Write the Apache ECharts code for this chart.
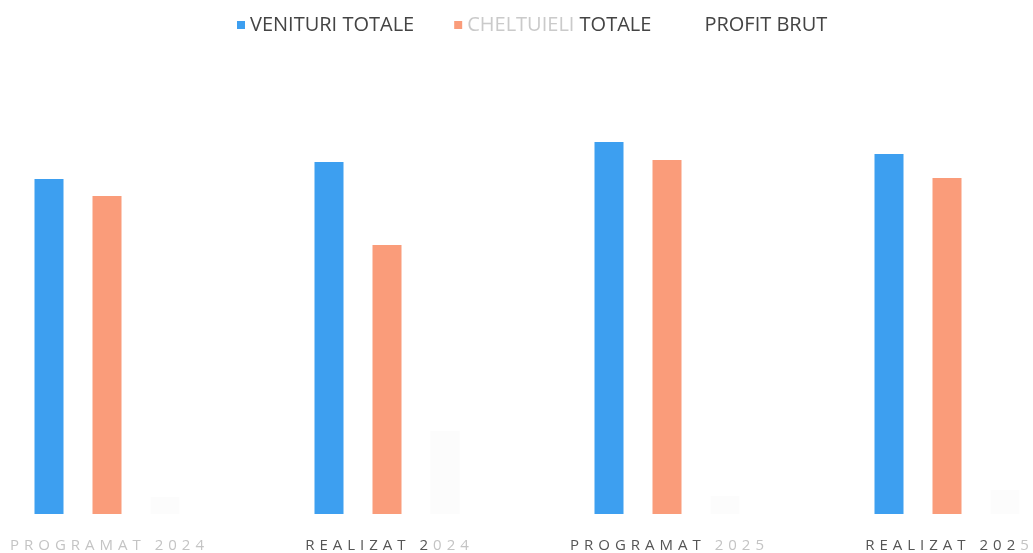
<!DOCTYPE html>
<html>
<head>
<meta charset="utf-8">
<script src="https://cdn.jsdelivr.net/npm/echarts@6/dist/echarts.min.js"></script>
<style>
  html, body { margin: 0; padding: 0; background: #fff; }
  #chart { width: 1033px; height: 553px; }
</style>
</head>
<body>
<div id="chart"></div>
<script>
const chart = echarts.init(document.getElementById("chart"));

const CATEGORIES = ["PROGRAMAT 2024", "REALIZAT 2024", "PROGRAMAT 2025", "REALIZAT 2025"];
const SERIES_NAMES = ["VENITURI TOTALE", "CHELTUIELI TOTALE", "PROFIT BRUT"];
const VENITURI = [335, 352, 372, 360];
const CHELTUIELI = [318, 269, 354, 336];
const PROFIT = [17, 83, 18, 24];

// profit bars are almost washed out in the scan
const COLORS = ["#3d9ff0", "#fa9c7a", "#fcfcfc"];

// spread the letters like the original axis labels
const spaced = s => s.split("").join("\u2004");

// which part of each label looks faded in the scan
const FADED = {
  "PROGRAMAT 2024": [0, 14],
  "REALIZAT 2024": [10, 13],
  "PROGRAMAT 2025": [10, 14],
  "REALIZAT 2025": [12, 13]
};

function axisLabel(value) {
  const [a, b] = FADED[value];
  const parts = [];
  if (a > 0) parts.push("{d|" + spaced(value.slice(0, a)) + "}");
  parts.push("{f|" + spaced(value.slice(a, b)) + "}");
  if (b < value.length) parts.push("{d|" + spaced(value.slice(b)) + "}");
  return parts.join("{d|\u2004}");
}

chart.setOption({
  animation: false,
  legend: {
    data: [
      { name: SERIES_NAMES[0] },
      { name: SERIES_NAMES[1] },
      { name: SERIES_NAMES[2], itemStyle: { color: "#ffffff" } }
    ],
    top: 10,
    left: 232,
    icon: "rect",
    itemWidth: 8,
    itemHeight: 8,
    itemGap: 40,
    formatter: name => name === "CHELTUIELI TOTALE"
      ? "{f|CHELTUIELI} {d|TOTALE}"
      : "{d|" + name + "}",
    textStyle: {
      fontFamily: "Open Sans",
      fontSize: 20,
      color: "#444",
      rich: {
        d: { fontFamily: "Open Sans", fontSize: 20, color: "#444" },
        f: { fontFamily: "Open Sans", fontSize: 20, color: "#cacaca" }
      }
    }
  },
  grid: { left: 107, right: 86, top: 34, bottom: 39 },
  xAxis: {
    type: "category",
    data: CATEGORIES,
    boundaryGap: false,
    axisLine: { show: false },
    axisTick: { show: false },
    axisLabel: {
      margin: 24,
      interval: 0,
      formatter: axisLabel,
      rich: {
        d: { fontFamily: "Open Sans", fontSize: 15, color: "#555" },
        f: { fontFamily: "Open Sans", fontSize: 15, color: "#c4c4c4" }
      }
    }
  },
  yAxis: {
    type: "value",
    min: 0,
    max: 480,
    show: false,
    splitLine: { show: false }
  },
  series: [
    { name: SERIES_NAMES[0], type: "bar", data: VENITURI, barWidth: 29, barGap: "100%", clip: false,
      itemStyle: { color: COLORS[0] } },
    { name: SERIES_NAMES[1], type: "bar", data: CHELTUIELI, barWidth: 29, barGap: "100%", clip: false,
      itemStyle: { color: COLORS[1] } },
    { name: SERIES_NAMES[2], type: "bar", data: PROFIT, barWidth: 29, barGap: "100%", clip: false,
      itemStyle: { color: COLORS[2] } }
  ]
});
</script>
</body>
</html>
